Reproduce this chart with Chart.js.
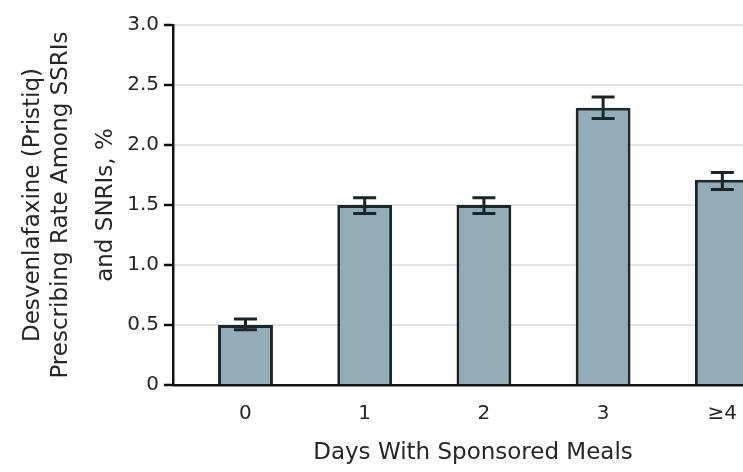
<!DOCTYPE html>
<html>
<head>
<meta charset="utf-8">
<script src="https://cdn.jsdelivr.net/npm/chart.js@4/dist/chart.umd.min.js"></script>
<style>
  html, body { margin: 0; padding: 0; background: #ffffff; overflow: hidden; }
  #wrap { width: 780px; height: 472px; }
</style>
</head>
<body>
<div id="wrap"><canvas id="chart" width="780" height="472"></canvas></div>
<script>
// Days with sponsored meals and the desvenlafaxine prescribing rate (%)
const categories = ['0', '1', '2', '3', '\u22654'];
const rates = [0.50, 1.50, 1.50, 2.31, 1.71];
const ciLower = [0.46, 1.43, 1.43, 2.22, 1.63];
const ciUpper = [0.55, 1.56, 1.56, 2.40, 1.77];

const yTickValues = [0, 0.5, 1.0, 1.5, 2.0, 2.5, 3.0];
const yTickLabels = ['0', '0.5', '1.0', '1.5', '2.0', '2.5', '3.0'];

const yTitleLines = ['Desvenlafaxine (Pristiq)', 'Prescribing Rate Among SSRIs', 'and SNRIs, %'];
const xTitle = 'Days With Sponsored Meals';

const FONT = '"DejaVu Sans", "Liberation Sans", sans-serif';
const TEXT = '#262626';
const INK = '#1b262b';

// Whiskers for the confidence interval of each bar
const errorBars = {
  id: 'errorBars',
  afterDatasetsDraw(chart) {
    const { ctx, scales: { x, y } } = chart;
    ctx.save();
    ctx.strokeStyle = INK;
    ctx.lineWidth = 3;
    ctx.lineCap = 'butt';
    const half = 11.5;
    categories.forEach((_, i) => {
      const px = x.getPixelForValue(i);
      const lo = y.getPixelForValue(ciLower[i]);
      const hi = y.getPixelForValue(ciUpper[i]);
      ctx.beginPath();
      ctx.moveTo(px, lo); ctx.lineTo(px, hi);
      ctx.moveTo(px - half, lo); ctx.lineTo(px + half, lo);
      ctx.moveTo(px - half, hi); ctx.lineTo(px + half, hi);
      ctx.stroke();
    });
    ctx.restore();
  }
};

// Three-line rotated title beside the value axis
const valueAxisTitle = {
  id: 'valueAxisTitle',
  afterDraw(chart) {
    const { ctx, chartArea } = chart;
    const cy = (chartArea.top + chartArea.bottom) / 2;
    const baselines = [39, 67, 112];
    ctx.save();
    ctx.font = '23px ' + FONT;
    ctx.fillStyle = TEXT;
    ctx.textAlign = 'center';
    ctx.textBaseline = 'alphabetic';
    yTitleLines.forEach((line, i) => {
      ctx.save();
      ctx.translate(baselines[i], cy);
      ctx.rotate(-Math.PI / 2);
      ctx.fillText(line, 0, 0);
      ctx.restore();
    });
    ctx.restore();
  }
};

new Chart(document.getElementById('chart'), {
  type: 'bar',
  data: {
    datasets: [{
      data: rates.map((v, i) => ({ x: i, y: v })),
      backgroundColor: '#92adb8',
      borderColor: INK,
      borderWidth: 3,
      barPercentage: 0.46,
      categoryPercentage: 1.0
    }]
  },
  options: {
    responsive: false,
    animation: false,
    layout: { padding: { left: 0, right: 7, top: 25, bottom: 0 } },
    plugins: { legend: { display: false }, tooltip: { enabled: false } },
    scales: {
      x: {
        type: 'linear',
        min: -0.608,
        max: 4.425,
        offset: false,
        grid: { display: false, offset: false, drawTicks: false },
        border: { display: true, color: '#111111', width: 2.5 },
        afterBuildTicks: (scale) => { scale.ticks = categories.map((_, i) => ({ value: i })); },
        afterFit: (scale) => { scale.height = 87; },
        ticks: {
          autoSkip: false,
          maxRotation: 0,
          padding: 17,
          color: TEXT,
          font: { family: FONT, size: 20 },
          callback: (v) => categories[v] ?? ''
        },
        title: {
          display: true,
          text: xTitle,
          color: TEXT,
          font: { family: FONT, size: 23 },
          padding: { top: 0, bottom: 5 }
        }
      },
      y: {
        min: 0,
        max: 3,
        afterBuildTicks: (scale) => { scale.ticks = yTickValues.map(v => ({ value: v })); },
        afterFit: (scale) => { scale.width = 173; },
        grid: {
          color: '#e4e4e4',
          lineWidth: 2,
          tickColor: '#111111',
          tickLength: 9,
          tickWidth: 2.5
        },
        border: { display: true, color: '#111111', width: 2.5 },
        ticks: {
          padding: 5,
          color: TEXT,
          font: { family: FONT, size: 20 },
          callback: (v) => yTickLabels[yTickValues.indexOf(v)] ?? ''
        }
      }
    }
  },
  plugins: [errorBars, valueAxisTitle]
});
</script>
</body>
</html>
